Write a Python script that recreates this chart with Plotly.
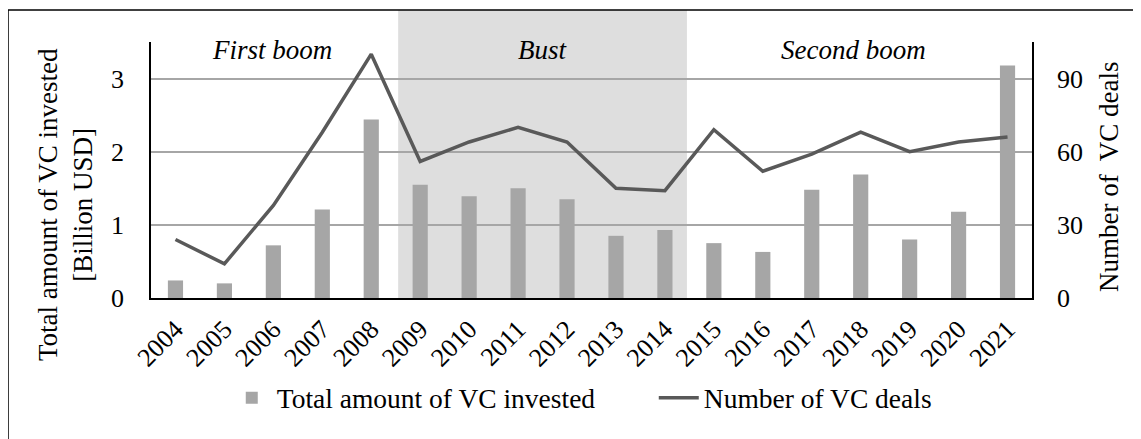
import plotly.graph_objects as go

years = [str(y) for y in range(2004, 2022)]
vc_invested = [0.24, 0.20, 0.72, 1.21, 2.44, 1.55, 1.39, 1.50, 1.35, 0.85,
               0.93, 0.75, 0.63, 1.48, 1.69, 0.80, 1.18, 3.18]
vc_deals = [24, 14, 38, 68, 100, 56, 64, 70, 64, 45,
            44, 69, 52, 59, 68, 60, 64, 66]

phase_labels = ["First boom", "Bust", "Second boom"]
phase_x = [1.97, 7.5, 13.86]
bust_start, bust_end = 4.55, 10.45

FONT = "Liberation Serif"
BAR_GREY = "#a6a6a6"
LINE_GREY = "#595959"

fig = go.Figure()

fig.add_trace(go.Bar(
    x=years, y=vc_invested,
    name="Total amount of VC invested",
    marker=dict(color=BAR_GREY, line=dict(width=0)),
    width=0.31,
    yaxis="y",
))

fig.add_trace(go.Scatter(
    x=years, y=vc_deals,
    name="Number of VC deals",
    mode="lines",
    line=dict(color=LINE_GREY, width=3.5),
    yaxis="y2",
))

# shaded bust period
fig.add_shape(type="rect", xref="x", yref="paper",
              x0=bust_start, x1=bust_end, y0=0, y1=1.125,
              fillcolor="#dedede", line=dict(width=0), layer="below")

# outer frame (only top and left edges are visible)
fig.add_shape(type="line", xref="paper", yref="paper",
              x0=-0.1623, x1=1.14, y0=1.125, y1=1.125,
              line=dict(color="black", width=1.5))
fig.add_shape(type="line", xref="paper", yref="paper",
              x0=-0.1623, x1=-0.1623, y0=1.125, y1=-0.6,
              line=dict(color="black", width=1.5))

for label, px in zip(phase_labels, phase_x):
    fig.add_annotation(x=px, y=3.39, xref="x", yref="y", text=label,
                       showarrow=False, xanchor="center", yanchor="middle",
                       font=dict(family=FONT, size=27, color="black", style="italic"))

# axis titles
fig.add_annotation(x=-0.0976, y=0.363, xref="paper", yref="paper",
                   text="Total amount of VC invested<br>[Billion USD]",
                   textangle=-90, showarrow=False,
                   xanchor="center", yanchor="middle",
                   font=dict(family=FONT, size=27, color="black"))
fig.add_annotation(x=1.0874, y=0.4727, xref="paper", yref="paper",
                   text="Number of  VC deals",
                   textangle=-90, showarrow=False,
                   xanchor="center", yanchor="middle",
                   font=dict(family=FONT, size=27, color="black"))

fig.update_layout(
    width=1141, height=439,
    margin=dict(l=143, r=117, t=34, b=149, autoexpand=False),
    paper_bgcolor="white", plot_bgcolor="white",
    font=dict(family=FONT, size=26, color="black"),
    showlegend=True,
    legend=dict(orientation="h", x=0.086, xanchor="left",
                y=-0.39, yanchor="middle",
                font=dict(family=FONT, size=27.5, color="black"),
                itemwidth=40, entrywidth=372, entrywidthmode="pixels",
                bgcolor="rgba(0,0,0,0)"),
    xaxis=dict(type="category", tickangle=-45, showgrid=False,
               showline=True, linecolor="black", linewidth=1.5,
               ticks="", ticklabelstandoff=4, automargin=False,
               tickfont=dict(family=FONT, size=26)),
    yaxis=dict(range=[0, 3.5], tickvals=[0, 1, 2, 3],
               showgrid=True, gridcolor=BAR_GREY, gridwidth=1.5,
               zeroline=False, showline=True, linecolor="black", linewidth=1.5,
               ticks="", ticklabelstandoff=20, automargin=False,
               tickfont=dict(family=FONT, size=26)),
    yaxis2=dict(range=[0, 105], tickvals=[0, 30, 60, 90], overlaying="y",
                side="right", showgrid=False, zeroline=False,
                showline=True, linecolor="black", linewidth=1.5,
                ticks="", ticklabelstandoff=18, automargin=False,
                tickfont=dict(family=FONT, size=26)),
)

fig.write_html("out.html")
